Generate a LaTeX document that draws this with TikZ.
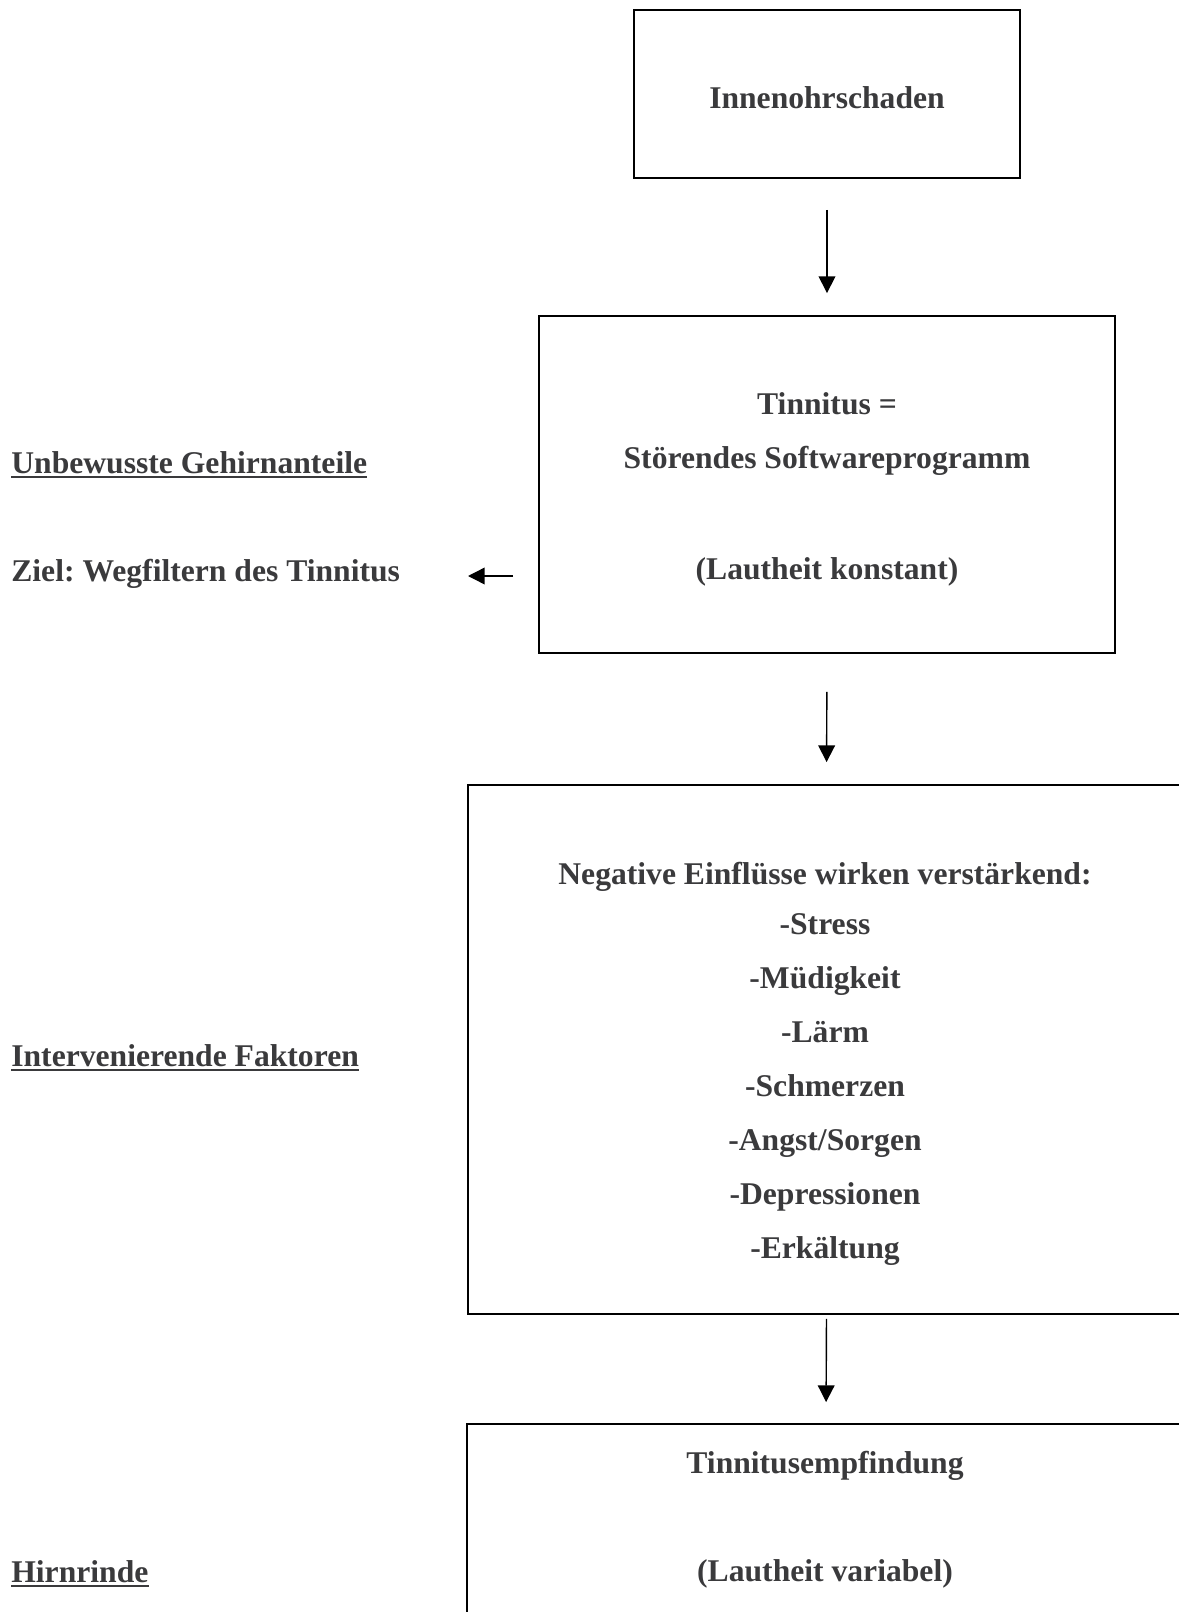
\documentclass[tikz,border=0pt]{standalone}
\usepackage{fontspec}
\setmainfont{Liberation Serif}
\usetikzlibrary{arrows.meta}
\definecolor{ink}{HTML}{3A3A3C}
\frenchspacing
\begin{document}
\begin{tikzpicture}[x=0.02cm,y=-0.02cm,
  frame/.style={draw=black,line width=1.1pt,inner sep=0pt},
  txt/.style={anchor=base,inner sep=0pt,text=ink,
    font=\fontsize{18}{20}\selectfont\bfseries},
  lbl/.style={txt,anchor=base west},
  uline/.style={draw=ink,line width=1.1pt},
  arr/.style={draw=black,line width=0.8pt,
    -{Triangle[width=9.5pt,length=9.5pt]}}]
\useasboundingbox (0,0) rectangle (1179,1612);
\clip (0,0) rectangle (1179,1612);

% boxes
\node[frame,minimum width=7.72cm,minimum height=3.36cm] (b1) at (827,94) {};
\node[frame,minimum width=11.52cm,minimum height=6.74cm] (b2) at (827,484.5) {};
\node[frame,minimum width=14.34cm,minimum height=10.58cm] (b3) at (826.5,1049.5) {};
\node[frame,minimum width=14.36cm,minimum height=4.32cm] (b4) at (826,1532) {};

% box texts
\node[txt] (t1) at (827,109) {Innenohrschaden};
\node[txt] (t2a) at (827,414) {Tinnitus =};
\node[txt] (t2b) at (827,468) {Störendes Softwareprogramm};
\node[txt] (t2c) at (827,579) {(Lautheit konstant)};
\node[txt] (t3a) at (825,884) {Negative Einflüsse wirken verstärkend:};
\node[txt] (t3b) at (825,934) {-Stress};
\node[txt] (t3c) at (825,988) {-Müdigkeit};
\node[txt] (t3d) at (825,1042) {-Lärm};
\node[txt] (t3e) at (825,1096) {-Schmerzen};
\node[txt] (t3f) at (825,1150) {-Angst/Sorgen};
\node[txt] (t3g) at (825,1204) {-Depressionen};
\node[txt] (t3h) at (825,1258) {-Erkältung};
\node[txt] (t4a) at (825,1473) {Tinnitusempfindung};
\node[txt] (t4b) at (825,1581) {(Lautheit variabel)};

% side labels
\node[lbl] (l1) at (11,473) {Unbewusste Gehirnanteile};
\node[lbl] (l2) at (11,581) {Ziel: Wegfiltern des Tinnitus};
\node[lbl] (l3) at (11,1066) {Intervenierende Faktoren};
\node[lbl] (l4) at (11,1582) {Hirnrinde};
\foreach \n in {l1,l3,l4}
  \draw[uline] ([yshift=-0.08cm]\n.base west) -- ([yshift=-0.08cm]\n.base east);

% connectors
\draw[arr,shorten <=0.62cm,shorten >=0.44cm] (b1.south) -- (b2.north);
\draw[arr,shorten <=0.76cm,shorten >=0.44cm] (b2.south) -- (b3.north);
\draw[arr,shorten <=0.08cm,shorten >=0.42cm] (b3.south) -- (b4.north);
\coordinate (lt) at (468,576);
\draw[arr,shorten <=0.5cm] (b2.west |- lt) -- (lt);
\end{tikzpicture}
\end{document}
